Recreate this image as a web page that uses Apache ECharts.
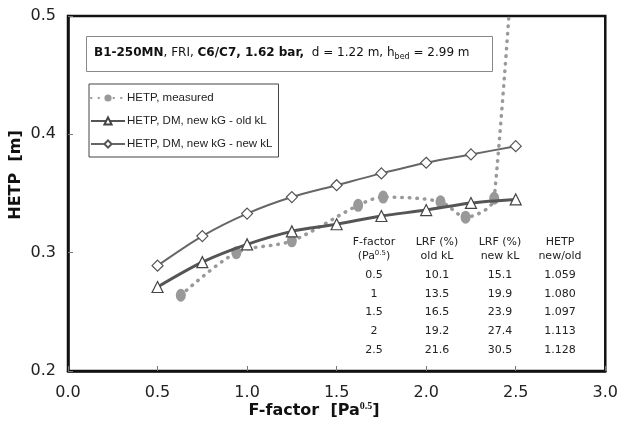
<!DOCTYPE html>
<html>
<head>
<meta charset="utf-8">
<script src="https://cdn.jsdelivr.net/npm/echarts@6/dist/echarts.min.js"></script>
<style>
  html, body { margin: 0; padding: 0; background: #fff; }
  #chart { width: 621px; height: 437px; }
</style>
</head>
<body>
<div id="chart"></div>
<script>
// model curves (DM, new kG) at these F-factors
const fFactor = [0.5, 0.75, 1.0, 1.25, 1.5, 1.75, 2.0, 2.25, 2.5];
const hetpOldKL = [0.271, 0.292, 0.307, 0.318, 0.324, 0.331, 0.336, 0.342, 0.345];
const hetpNewKL = [0.289, 0.314, 0.333, 0.347, 0.357, 0.367, 0.376, 0.383, 0.390];

// measured points (last one is far above the plotted range)
const measF = [0.63, 0.94, 1.25, 1.62, 1.76, 2.08, 2.22, 2.38, 2.70];
const measHetp = [0.264, 0.300, 0.310, 0.340, 0.347, 0.343, 0.330, 0.346, 1.10];

// table in the lower right
const tableF = ['0.5', '1', '1.5', '2', '2.5'];
const lrfOld = ['10.1', '13.5', '16.5', '19.2', '21.6'];
const lrfNew = ['15.1', '19.9', '23.9', '27.4', '30.5'];
const hetpRatio = ['1.059', '1.080', '1.097', '1.113', '1.128'];

const FONT = '"DejaVu Sans", Verdana, sans-serif';

const pairs = (xs, ys) => xs.map((x, i) => [x, ys[i]]);

const chart = echarts.init(document.getElementById('chart'));

// build table texts
const colX = [374, 437, 500, 560];
const tableEls = [];
const cell = (x, y, text, rich) => ({
  type: 'text', x: x, y: y, z: 10,
  style: {
    text: text, rich: rich, align: 'center', verticalAlign: 'middle',
    fontFamily: FONT, fontSize: 11, fill: '#222'
  }
});
const supRich = { sup: { fontSize: 7, padding: [0, 0, 6, 0], fontFamily: FONT, fill: '#222' } };
tableEls.push(cell(colX[0], 242, 'F-factor'));
tableEls.push(cell(colX[0], 256, '(Pa{sup|0.5})', supRich));
tableEls.push(cell(colX[1], 242, 'LRF (%)'));
tableEls.push(cell(colX[1], 256, 'old kL'));
tableEls.push(cell(colX[2], 242, 'LRF (%)'));
tableEls.push(cell(colX[2], 256, 'new kL'));
tableEls.push(cell(colX[3], 242, 'HETP'));
tableEls.push(cell(colX[3], 256, 'new/old'));
tableF.forEach((f, i) => {
  const y = 275 + i * 18.8;
  tableEls.push(cell(colX[0], y, f));
  tableEls.push(cell(colX[1], y, lrfOld[i]));
  tableEls.push(cell(colX[2], y, lrfNew[i]));
  tableEls.push(cell(colX[3], y, hetpRatio[i]));
});

const option = {
  animation: false,
  backgroundColor: '#fff',
  grid: {
    left: 68, right: 11, top: 16, bottom: 66,
    show: true, borderColor: '#111', borderWidth: 2.5
  },
  legend: {
    orient: 'vertical',
    left: 89, top: 84,
    padding: [7, 6, 6, 1],
    itemGap: 9,
    itemWidth: 34, itemHeight: 9,
    backgroundColor: '#fff',
    borderColor: '#444', borderWidth: 1,
    textStyle: { fontFamily: '"Liberation Sans", Arial, sans-serif', fontSize: 11.5, color: '#222', lineHeight: 14, padding: [0, 0, 0, -3] },
    data: ['HETP, measured', 'HETP, DM, new kG - old kL', 'HETP, DM, new kG - new kL']
  },
  xAxis: {
    type: 'value',
    min: 0, max: 3, interval: 0.5,
    axisLine: { show: true, lineStyle: { color: '#111', width: 2.5 } },
    axisTick: { show: true, inside: true, length: 5, lineStyle: { color: '#777' } },
    axisLabel: {
      margin: 14, color: '#222', fontFamily: FONT, fontSize: 16,
      formatter: v => v.toFixed(1)
    },
    splitLine: { show: false }
  },
  yAxis: {
    type: 'value',
    min: 0.2, max: 0.5, interval: 0.1,
    axisLine: { show: true, lineStyle: { color: '#111', width: 2.5 } },
    axisTick: { show: true, inside: true, length: 5, lineStyle: { color: '#777' } },
    axisLabel: {
      margin: 12, color: '#222', fontFamily: FONT, fontSize: 16,
      formatter: v => v.toFixed(1)
    },
    splitLine: { show: false }
  },
  graphic: [
    {
      type: 'rect', left: 86, top: 36, z: 10,
      shape: { width: 406, height: 35 },
      style: { fill: '#fff', stroke: '#888', lineWidth: 1 }
    },
    {
      type: 'text', x: 94, y: 53, z: 11,
      style: {
        text: '{b|B1-250MN}{n|, FRI, }{b|C6/C7, 1.62 bar,}{n|  d = 1.22 m, h}{sub|bed}{n| = 2.99 m}',
        verticalAlign: 'middle',
        rich: {
          b: { fontFamily: FONT, fontSize: 12, fontWeight: 'bold', fill: '#111' },
          n: { fontFamily: FONT, fontSize: 12, fill: '#111' },
          sub: { fontFamily: FONT, fontSize: 8, fill: '#111', padding: [7, 0, 0, 0] }
        }
      }
    },
    {
      type: 'text', x: 314, y: 411, z: 10,
      style: {
        text: '{t|F-factor  [Pa}{sup|0.5}{t|]}',
        align: 'center', verticalAlign: 'middle',
        rich: {
          t: { fontFamily: FONT, fontSize: 16, fontWeight: 'bold', fill: '#111' },
          sup: { fontFamily: '"Liberation Serif", serif', fontSize: 10, fontWeight: 'bold', fill: '#111', padding: [0, 0, 9, 0] }
        }
      }
    },
    {
      type: 'text', x: 16, y: 175, rotation: Math.PI / 2, z: 10,
      style: {
        text: 'HETP  [m]',
        align: 'center', verticalAlign: 'middle',
        fontFamily: FONT, fontSize: 16, fontWeight: 'bold', fill: '#111'
      }
    }
  ].concat(tableEls),
  series: [
    {
      name: 'HETP, DM, new kG - new kL',
      type: 'line',
      data: pairs(fFactor, hetpNewKL),
      smooth: 0.3,
      symbol: 'diamond', symbolSize: 11,
      lineStyle: { color: '#666', width: 2 },
      itemStyle: { color: '#fff', borderColor: '#555', borderWidth: 1.2 },
      z: 3
    },
    {
      name: 'HETP, DM, new kG - old kL',
      type: 'line',
      data: pairs(fFactor, hetpOldKL),
      smooth: 0.3,
      symbol: 'triangle', symbolSize: 11,
      lineStyle: { color: '#555', width: 3 },
      itemStyle: { color: '#fff', borderColor: '#444', borderWidth: 1.2 },
      z: 4
    },
    {
      name: 'HETP, measured',
      type: 'line',
      data: pairs(measF, measHetp),
      smooth: 0.3,
      clip: true,
      symbol: 'circle', symbolSize: [10, 13],
      lineStyle: { color: '#999', width: 3.5, type: [0.5, 7], cap: 'round' },
      itemStyle: { color: '#999', borderWidth: 0 },
      z: 2
    }
  ]
};

chart.setOption(option);
</script>
</body>
</html>
